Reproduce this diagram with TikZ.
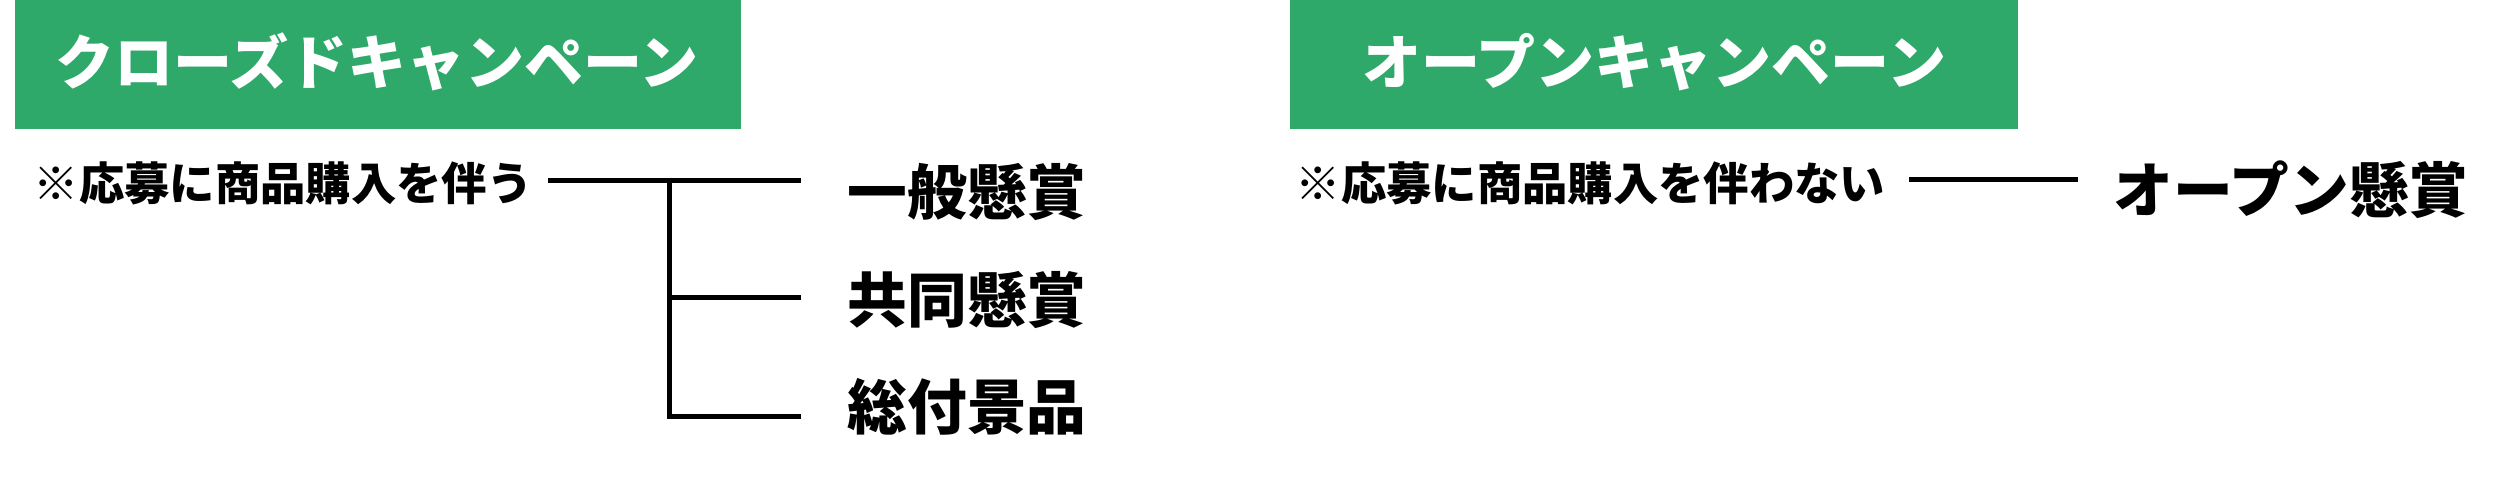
\documentclass[tikz,border=0pt]{standalone}
\usepackage{fontspec}
\newfontfamily\jpfont{Noto Sans CJK JP}
\usetikzlibrary{positioning}
\definecolor{campgreen}{RGB}{46,169,106}
\tikzset{
    %Define style for the green headings
    kopf/.style={
           rectangle,
           fill=campgreen,
           text=white,
           font=\jpfont\bfseries\fontsize{16.8pt}{18pt}\selectfont,
           inner sep=0pt},
    %Define style for the condition texts
    hinweis/.style={
           font=\jpfont\bfseries\fontsize{12.9pt}{14pt}\selectfont,
           inner sep=0pt,
           anchor=west},
    %Define style for the kinds of prizes
    preis/.style={
           font=\jpfont\bfseries\fontsize{17pt}{19pt}\selectfont,
           inner sep=0pt,
           anchor=west},
    % Define line style
    ast/.style={
           line width=1.42pt,
           black}
}

\begin{document}
\begin{tikzpicture}[x=0.1mm, y=-0.1mm]
\useasboundingbox (0,0) rectangle (2520,483);

%boxes
\fill[campgreen] (14.5,0) rectangle (741,129);
\fill[campgreen] (1290,0) rectangle (2018,129);

%nodes
\node[kopf] (closed) at (377,62) {クローズドキャンペーン};
\node[kopf] (open) at (1654,62) {オープンキャンペーン};
\node[hinweis] (closedcond) at (33,183) {※応募に商品購入を伴う};
\node[hinweis] (opencond) at (1295,183) {※応募に商品購入を伴わない};
\node[preis] (general) at (847,192) {一般懸賞};
\node[preis] (joint) at (847,300) {共同懸賞};
\node[preis] (premium) at (847,407) {総付景品};
\node[preis] (openprize) at (2113,190) {オープン懸賞};

%coordinates
\coordinate (cstart) at (548,180.5);
\coordinate (cjoin) at (669.5,180.5);
\coordinate (cend1) at (801,180.5);
\coordinate (cend2) at (801,298);
\coordinate (cend3) at (801,417);
\coordinate (ostart) at (1909,179.5);
\coordinate (oend) at (2078,179.5);

\draw [ast] (cstart) -- (cend1);
\draw [ast] (cjoin) |- (cend3);
\draw [ast] (cjoin |- cend2) -- (cend2);
\draw [ast] (ostart) -- (oend);

\end{tikzpicture}
\end{document}
